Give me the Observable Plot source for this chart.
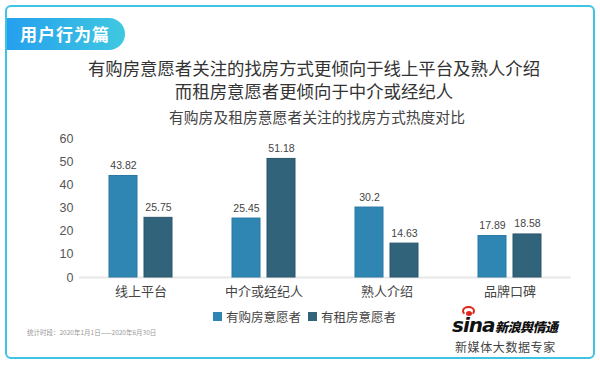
<!DOCTYPE html>
<html>
<head>
<meta charset="utf-8">
<script src="https://cdn.jsdelivr.net/npm/d3@7"></script>
<script src="https://cdn.jsdelivr.net/npm/@observablehq/plot@0.6"></script>
<style>
  html, body { margin: 0; padding: 0; background: #fff; }
  body { width: 600px; height: 365px; position: relative; overflow: hidden;
         font-family: "Noto Sans CJK SC", "Noto Sans", sans-serif; }
  .frame { position: absolute; left: 5px; top: 5px; width: 586px; height: 350px;
           border: 2.5px solid #3ec3e3; border-radius: 6px; box-sizing: content-box; }
  .badge { position: absolute; left: 7px; top: 18px; width: 118px; height: 32px;
           background: linear-gradient(90deg, #25a0ee, #3fc8e0); border-radius: 0 16px 16px 0;
           color: #fff; font-size: 17px; font-weight: bold; line-height: 32px; text-indent: 13px; letter-spacing: 1px; }
  .title { position: absolute; left: 0; width: 628px; text-align: center; color: #333; font-size: 17.4px; }
  .subtitle { position: absolute; left: 0; width: 634px; top: 106px; text-align: center; color: #444; font-size: 14.8px; }
  #chart { position: absolute; left: 0; top: 125px; }
  .legend { position: absolute; top: 307px; left: 213px; font-size: 12.5px; color: #444; display: flex; gap: 7px; align-items: center; }
  .legend span.sw { display: inline-block; width: 9px; height: 9px; margin-right: 4px; vertical-align: middle; }
  .legend .item { display: flex; align-items: center; }
  .foot { position: absolute; left: 27px; top: 327px; font-size: 6.5px; color: #999; white-space: nowrap; }
  .logo { position: absolute; left: 452px; top: 303px; width: 110px; height: 32px; }
  .sina { position: absolute; left: 0; top: 10px; font-family: "DejaVu Sans", sans-serif; font-weight: bold; font-style: italic;
          font-size: 20px; color: #111; letter-spacing: -1px; }
  .sinacn { position: absolute; left: 43px; top: 14px; font-weight: 900; font-style: italic; font-size: 13px; color: #111; letter-spacing: -0.5px; }
  .eye { position: absolute; left: 10px; top: 3px; width: 13px; height: 10px; border-radius: 50%;
         border: 2.5px solid #e0261b; border-bottom-color: transparent; box-sizing: border-box; }
  .eyedot { position: absolute; left: 14px; top: 8px; width: 6px; height: 5px; border-radius: 50%; background: #e0261b; }
  .slogan { position: absolute; left: 455px; top: 338px; font-size: 12px; color: #444; letter-spacing: 0.6px; }
</style>
</head>
<body>
<div class="frame"></div>
<div class="badge">用户行为篇</div>
<div class="title" style="top:55px">有购房意愿者关注的找房方式更倾向于线上平台及熟人介绍</div>
<div class="title" style="top:78px">而租房意愿者更倾向于中介或经纪人</div>
<div class="subtitle">有购房及租房意愿者关注的找房方式热度对比</div>
<div id="chart"></div>
<div class="legend" id="legend"></div>
<div class="foot">统计时段：2020年1月1日——2020年6月30日</div>
<div class="logo">
  <div class="eye"></div><div class="eyedot"></div>
  <div class="sina">sina</div>
  <div class="sinacn">新浪舆情通</div>
</div>
<div class="slogan">新媒体大数据专家</div>
<script>
const categories = ["线上平台", "中介或经纪人", "熟人介绍", "品牌口碑"];
const series = ["有购房意愿者", "有租房意愿者"];
const buyValues = [43.82, 25.45, 30.2, 17.89];
const rentValues = [25.75, 51.18, 14.63, 18.58];
const yTicks = [0, 10, 20, 30, 40, 50, 60];
const colors = ["#2f86b3", "#31637b"];
const strokes = ["#2878a4", "#2a566c"];

const data = [];
categories.forEach((c, i) => {
  data.push({category: c, series: series[0], value: buyValues[i]});
  data.push({category: c, series: series[1], value: rentValues[i]});
});

const font = "'Liberation Sans', 'Noto Sans CJK SC', sans-serif";

const chart = Plot.plot({
  width: 600,
  height: 180,
  marginLeft: 78,
  marginRight: 28,
  marginTop: 13,
  marginBottom: 28,
  style: {fontFamily: font, background: "transparent", overflow: "visible"},
  fx: {domain: categories, padding: 0, label: null},
  x: {domain: series, paddingInner: 0.21, paddingOuter: 0.845, axis: null},
  y: {domain: [0, 60], label: null},
  color: {domain: series, range: colors},
  marks: [
    Plot.axisY({ticks: yTicks, tickSize: 0, tickPadding: 6, fontSize: 12.5, color: "#555", label: null}),
    Plot.axisFx({anchor: "bottom", tickSize: 0, tickPadding: 9, fontSize: 13, color: "#444", label: null,
                 fontFamily: "'Noto Sans CJK SC', sans-serif"}),
    Plot.ruleY([0], {stroke: "#e8e8e8", strokeWidth: 2}),
    Plot.barY(data, {fx: "category", x: "series", y: "value", fill: "series",
                     stroke: d => strokes[series.indexOf(d.series)], strokeWidth: 1}),
    Plot.text(data, {fx: "category", x: "series", y: "value", text: d => String(d.value),
                     dy: -7, lineAnchor: "bottom", fontSize: 10.5, fill: "#444"})
  ]
});
document.getElementById("chart").appendChild(chart);

const legend = document.getElementById("legend");
series.forEach((s, i) => {
  const item = document.createElement("div");
  item.className = "item";
  const sw = document.createElement("span");
  sw.className = "sw";
  sw.style.background = colors[i];
  item.appendChild(sw);
  item.appendChild(document.createTextNode(s));
  legend.appendChild(item);
});
</script>
</body>
</html>
